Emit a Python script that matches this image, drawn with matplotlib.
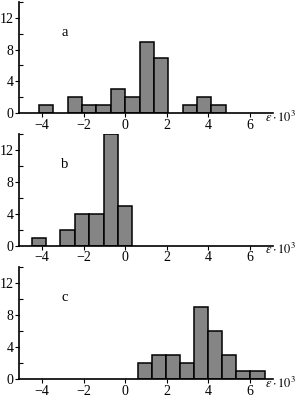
import numpy as np
import matplotlib
matplotlib.use('Agg')
import matplotlib.pyplot as plt
from matplotlib.ticker import MultipleLocator

plt.rcParams['font.family'] = ['Liberation Serif', 'DejaVu Serif']
plt.rcParams['mathtext.fontset'] = 'stix'

# bin edges (start, width) and counts
a_start, a_width = -4.14, 0.69
a_counts = [1, 0, 2, 1, 1, 3, 2, 9, 7, 0, 1, 2, 1]

b_start, b_width = -4.49, 0.69
b_counts = [1, 0, 2, 4, 4, 14, 5]

c_start, c_width = 0.62, 0.675
c_counts = [2, 3, 3, 2, 9, 6, 3, 1, 1]

panels = [('a', a_start, a_width, a_counts),
          ('b', b_start, b_width, b_counts),
          ('c', c_start, c_width, c_counts)]

fig = plt.figure(figsize=(2.98, 3.98), dpi=100)
bottoms = [0.7153, 0.3827, 0.0477]
h = 0.2804

for (name, start, width, counts), bot in zip(panels, bottoms):
    ax = fig.add_axes([0.064, bot, 0.852, h])
    lefts = start + width * np.arange(len(counts))
    for x, c in zip(lefts, counts):
        if c > 0:
            ax.bar(x, c, width=width, align='edge', color='#858585',
                   edgecolor='black', linewidth=1.1)
    ax.set_xlim(-5.1, 7.1)
    ax.set_ylim(0, 14)
    ax.spines['top'].set_visible(False)
    ax.spines['right'].set_visible(False)
    ax.spines['left'].set_linewidth(1.2)
    ax.spines['bottom'].set_linewidth(1.2)
    ax.set_xticks([-4, -2, 0, 2, 4, 6])
    ax.set_xticklabels(['\u22124', '\u22122', '0', '2', '4', '6'])
    ax.set_yticks([0, 4, 8, 12])
    ax.yaxis.set_minor_locator(MultipleLocator(2))
    ax.tick_params(axis='both', which='major', labelsize=10, length=3,
                   width=0.8, direction='out', pad=1)
    ax.tick_params(axis='y', which='minor', length=3, width=0.8, direction='in')
    ax.text(-2.9, 10.2, name, fontsize=10.5, ha='center', va='center')
    ax.text(6.7, -1.1, r'$\varepsilon\cdot 10^3$', fontsize=9,
            ha='left', va='baseline', clip_on=False)

fig.savefig('out.png', dpi=100)
